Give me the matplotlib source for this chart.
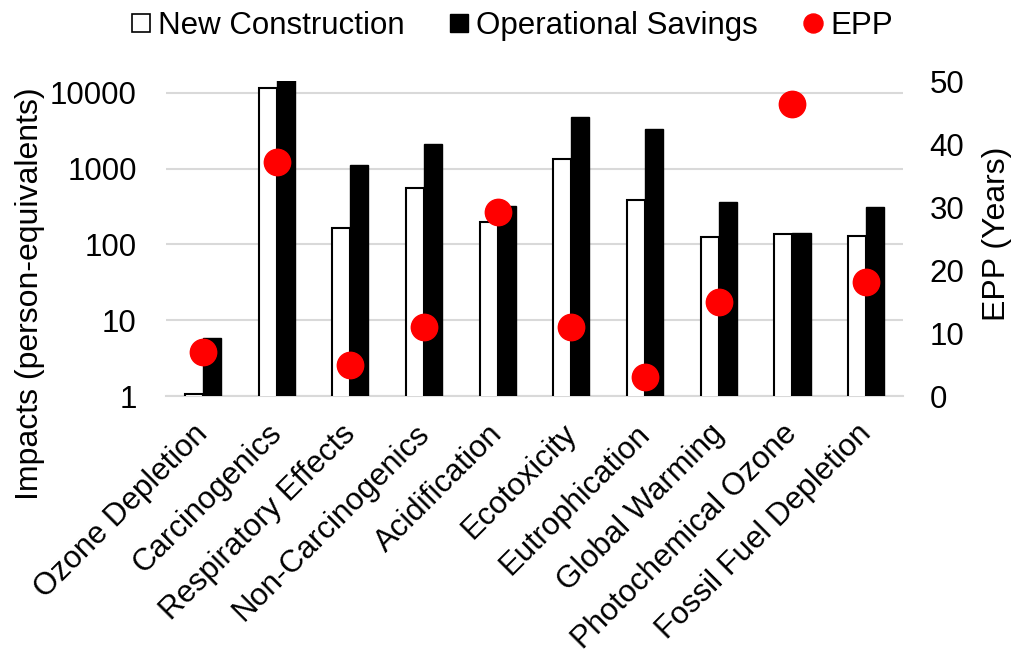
import numpy as np
import matplotlib
matplotlib.use("Agg")
import matplotlib.pyplot as plt
import matplotlib.transforms as mtransforms
from matplotlib.lines import Line2D

plt.rcParams['font.family'] = ['Liberation Sans', 'DejaVu Sans']

categories = ["Ozone Depletion", "Carcinogenics", "Respiratory Effects",
              "Non-Carcinogenics", "Acidification", "Ecotoxicity",
              "Eutrophication", "Global Warming", "Photochemical Ozone",
              "Fossil Fuel Depletion"]
new_construction = [1.06, 11600, 166, 558, 197, 1330, 381, 124, 136, 129]
operational_savings = [5.9, 14500, 1100, 2100, 320, 4800, 3350, 362, 142, 314]
epp_years = [7, 37.2, 5, 11, 29.2, 11, 3, 15, 46.3, 18.1]
left_ticks = [1, 10, 100, 1000, 10000]
right_ticks = [0, 10, 20, 30, 40, 50]

fig = plt.figure(figsize=(10.13, 6.55), dpi=100)
ax = fig.add_axes([0.1639, 0.3954, 0.7275, 0.4809])

x = np.arange(len(categories))
w = 0.245
ax.bar(x - w / 2, new_construction, width=w, color="white",
       edgecolor="black", linewidth=1.5, zorder=3)
ax.bar(x + w / 2, operational_savings, width=w, color="black",
       edgecolor="black", linewidth=1.0, zorder=3)

ax.set_yscale("log")
ax.set_ylim(1, 10 ** (315 / 75.83))
ax.set_xlim(-0.5, len(categories) - 0.5)
ax.set_yticks(left_ticks)
ax.set_yticklabels([str(t) for t in left_ticks])
ax.yaxis.set_minor_locator(matplotlib.ticker.NullLocator())
ax.grid(axis="y", color="#d9d9d9", linewidth=1.5, zorder=0)
ax.set_axisbelow(True)
for side in ["top", "left", "right"]:
    ax.spines[side].set_visible(False)
ax.spines["bottom"].set_color("#d9d9d9")
ax.spines["bottom"].set_linewidth(1.5)
ax.tick_params(axis="both", length=0, labelsize=22.5)
ax.tick_params(axis="y", pad=21)
ax.set_xticks(x)
ax.set_xticklabels(categories, rotation=45, ha="right",
                   rotation_mode="anchor", fontsize=22.4)
ax.tick_params(axis="x", pad=12)
shift = mtransforms.ScaledTranslation(-10 / 100, -6 / 100, fig.dpi_scale_trans)
for lbl in ax.get_xticklabels():
    lbl.set_transform(lbl.get_transform() + shift)

ax2 = ax.twinx()
ax2.plot(x, epp_years, "o", color="#ff0000", markersize=19, zorder=5,
         linestyle="none")
ax2.set_ylim(0, 50)
ax2.set_yticks(right_ticks)
ax2.tick_params(axis="y", length=0, labelsize=22.5, pad=19)
for side in ["top", "left", "right", "bottom"]:
    ax2.spines[side].set_visible(False)

fig.text(0.030, 0.551, "Impacts (person-equivalents)", rotation=90,
         ha="center", va="center", fontsize=23)
fig.text(0.984, 0.643, "EPP (Years)", rotation=90,
         ha="center", va="center", fontsize=23)

handles = [
    Line2D([], [], marker="s", linestyle="none", markersize=12.5,
           markerfacecolor="white", markeredgecolor="black", markeredgewidth=1.2),
    Line2D([], [], marker="s", linestyle="none", markersize=13,
           markerfacecolor="black", markeredgecolor="black"),
    Line2D([], [], marker="o", linestyle="none", markersize=13.7,
           markerfacecolor="#ff0000", markeredgecolor="#ff0000"),
]
fig.legend(handles, ["New Construction", "Operational Savings", "EPP"],
           loc="center", bbox_to_anchor=(0.5054, 0.96), ncol=3, frameon=False,
           fontsize=22.5, handlelength=0.6, handletextpad=0.25,
           columnspacing=1.45)

fig.savefig("out.png", dpi=100)
